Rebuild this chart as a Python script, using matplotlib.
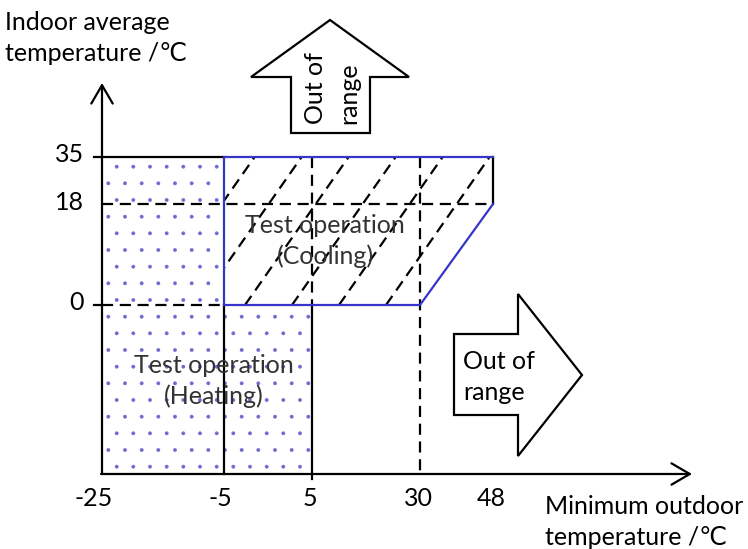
import numpy as np
import matplotlib.pyplot as plt
from matplotlib.patches import Polygon

plt.rcParams['font.family'] = ['Lato', 'DejaVu Sans']
plt.rcParams['hatch.linewidth'] = 0.3

# values shown on the schematic axes
x_ticks = [-25, -5, 5, 30, 48]
y_ticks = [0, 18, 35]

# operating ranges (outdoor temp, indoor temp)
cool_x = [-5, -5, 48, 48, 30]
cool_y = [0, 35, 35, 18, 0]
heat_x_lo, heat_x_mid, heat_x_hi = -25, -5, 5
heat_y_split, heat_y_top = 0, 35

# schematic (non-linear) placement of the tick values on the canvas
X_PX = [102, 224, 312, 420, 493]
Y_PX = [305, 204, 157]
AXIS_Y = 474
AXIS_X = 102


def fx(v):
    return np.interp(v, x_ticks, X_PX)


def fy(v):
    return np.interp(v, y_ticks, Y_PX)


BLUE = '#3535c8'
TXT = '#333333'
DASH = (0, (5, 3))
LW = 1.6

fig = plt.figure(figsize=(7.48, 5.49), dpi=100)
ax = fig.add_axes([0, 0, 1, 1])
ax.set_xlim(0, 748)
ax.set_ylim(549, 0)
ax.axis('off')

# heating area (dotted)
heat = Polygon([(fx(heat_x_lo), AXIS_Y), (fx(heat_x_lo), fy(heat_y_top)),
                (fx(heat_x_mid), fy(heat_y_top)), (fx(heat_x_mid), fy(heat_y_split)),
                (fx(heat_x_hi), fy(heat_y_split)), (fx(heat_x_hi), AXIS_Y)],
               closed=True, facecolor='white', edgecolor='#6a6ad0', lw=0, hatch='.')
ax.add_patch(heat)

# cooling area outline and dashed diagonal hatching
cool_pts = list(zip(fx(cool_x), fy(cool_y)))
cool = Polygon(cool_pts, closed=True, facecolor='none', edgecolor='none')
ax.add_patch(cool)
slope = 0.7
y0, y1 = fy(0), fy(35)
for c in np.arange(245 - 47 * 4, 560, 47):
    ln, = ax.plot([c, c + slope * (y0 - y1)], [y0, y1], color='black', lw=LW,
                  linestyle=DASH)
    ln.set_clip_path(cool)

# black grid lines
ax.plot([fx(-25), fx(48)], [fy(18), fy(18)], color='black', lw=LW, linestyle=DASH)
ax.plot([fx(-25), fx(-5)], [fy(0), fy(0)], color='black', lw=LW, linestyle=DASH)
ax.plot([fx(5), fx(5)], [fy(35), fy(0)], color='black', lw=LW, linestyle=DASH)
ax.plot([fx(30), fx(30)], [fy(35), AXIS_Y], color='black', lw=LW, linestyle=DASH)
ax.plot([94, fx(-5)], [fy(35), fy(35)], color='black', lw=LW)
ax.plot([94, AXIS_X], [fy(0), fy(0)], color='black', lw=LW)
ax.plot([fx(-5), fx(-5)], [fy(0), AXIS_Y], color='black', lw=LW)
ax.plot([fx(5), fx(5)], [fy(0), AXIS_Y + 5], color='black', lw=LW)
ax.plot([fx(48), fx(48)], [fy(35), fy(18)], color='black', lw=LW)

# blue boundary of cooling range
ax.plot([fx(-5), fx(-5), fx(48)], [fy(0), fy(35), fy(35)], color=BLUE, lw=LW)
ax.plot([fx(-5), fx(30), fx(48)], [fy(0), fy(0), fy(18)], color=BLUE, lw=LW)

# axes with open arrow heads
arrow = dict(arrowstyle='->,head_length=0.6,head_width=0.35', lw=LW,
             color='black', shrinkA=0, shrinkB=0, mutation_scale=22)
ax.annotate('', xy=(AXIS_X, 83), xytext=(AXIS_X, AXIS_Y), arrowprops=arrow)
ax.annotate('', xy=(692, AXIS_Y), xytext=(AXIS_X - 1, AXIS_Y), arrowprops=arrow)

# tick labels
fs = 18
for v in x_ticks:
    ax.text(fx(v) - (8 if v == -25 else 4 if v == -5 else 2), 498, str(v),
            ha='center', va='center', fontsize=fs, color='black')
for v in y_ticks:
    ax.text(84, fy(v) - 2, str(v), ha='right', va='center', fontsize=fs,
            color='black')

ax.text(5, 38, 'Indoor average\ntemperature /\u2103', ha='left', va='center',
        fontsize=fs, linespacing=1.4, color='black')
ax.text(545, 522, 'Minimum outdoor\ntemperature /\u2103', ha='left', va='center',
        fontsize=fs, linespacing=1.4, color='black')

ax.text(325, 241, 'Test operation\n(Cooling)', ha='center', va='center',
        fontsize=fs, linespacing=1.4, color=TXT)
ax.text(214, 381, 'Test operation\n(Heating)', ha='center', va='center',
        fontsize=fs, linespacing=1.4, color=TXT)

# "out of range" block arrows
up = Polygon([(330, 20), (409, 77), (370, 77), (370, 133), (291, 133),
              (291, 77), (251, 77)], closed=True, facecolor='white',
             edgecolor='black', lw=LW)
ax.add_patch(up)
ax.text(316, 124, 'Out of', rotation=90, ha='center', va='bottom',
        fontsize=fs, color='black')
ax.text(349, 124, 'range', rotation=90, ha='center', va='bottom',
        fontsize=fs, color='black')

right = Polygon([(454, 334), (518, 334), (518, 294), (582, 375), (518, 456),
                 (518, 415), (454, 415)], closed=True, facecolor='white',
                edgecolor='black', lw=LW)
ax.add_patch(right)
ax.text(463, 377, 'Out of\nrange', ha='left', va='center', fontsize=fs,
        linespacing=1.4, color='black')

fig.savefig('out.png', dpi=100)
